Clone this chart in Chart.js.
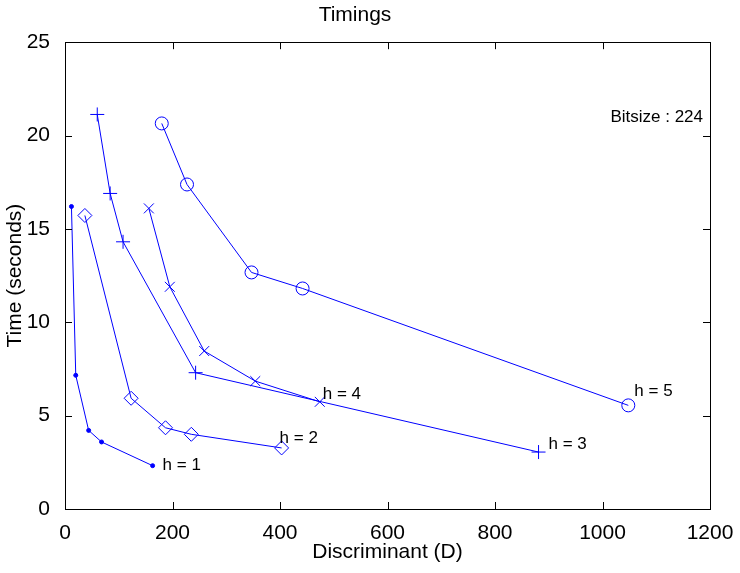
<!DOCTYPE html>
<html>
<head>
<meta charset="utf-8">
<script src="https://cdn.jsdelivr.net/npm/chart.js@4.4.1/dist/chart.umd.min.js"></script>
<style>
  body { margin: 0; background: #fff; }
</style>
</head>
<body>
<canvas id="myChart" width="740" height="573"></canvas>
<script>
// discriminant (x) and time (y) for each class number h
var h1X = [12, 20, 44, 68, 163];
var h1Y = [16.2, 7.16, 4.21, 3.59, 2.32];
var h2X = [37, 123, 187, 235, 403];
var h2Y = [15.72, 5.93, 4.35, 4.0, 3.27];
var h3X = [60, 84, 108, 243, 881];
var h3Y = [21.13, 16.9, 14.31, 7.30, 3.05];
var h4X = [156, 195, 259, 354, 474];
var h4Y = [16.1, 11.9, 8.46, 6.85, 5.74];
var h5X = [180, 227, 347, 442, 1048];
var h5Y = [20.65, 17.38, 12.67, 11.81, 5.55];
var seriesLabels = ['h = 1', 'h = 2', 'h = 3', 'h = 4', 'h = 5'];
var xTicks = [0, 200, 400, 600, 800, 1000, 1200];
var yTicks = [0, 5, 10, 15, 20, 25];
var note = 'Bitsize : 224';
var noteY = 21; // y value the note sits at

function pts(xs, ys) {
    return xs.map(function (x, i) { return { x: x, y: ys[i] }; });
}

var blue = '#0000ff';
var font = 'Liberation Sans, Arial, Helvetica, sans-serif';

// label offsets (px) from the last point of each line
var labelOffsets = [[10, 0], [-2, -10], [10, -8], [3, -8], [6, -14]];

var boxPlugin = {
    id: 'boxPlugin',
    afterDraw: function (chart) {
        var c = chart.ctx, a = chart.chartArea;
        var xs = chart.scales.x, ys = chart.scales.y;
        c.save();
        c.strokeStyle = '#000';
        c.lineWidth = 1;
        c.strokeRect(Math.round(a.left) + 0.5, Math.round(a.top) + 0.5,
            Math.round(a.right - a.left), Math.round(a.bottom - a.top));
        c.beginPath();
        xTicks.forEach(function (v) {
            var px = Math.round(xs.getPixelForValue(v)) + 0.5;
            c.moveTo(px, a.bottom); c.lineTo(px, a.bottom - 7);
            c.moveTo(px, a.top); c.lineTo(px, a.top + 7);
        });
        yTicks.forEach(function (v) {
            var py = Math.round(ys.getPixelForValue(v)) + 0.5;
            c.moveTo(a.left, py); c.lineTo(a.left + 7, py);
            c.moveTo(a.right, py); c.lineTo(a.right - 7, py);
        });
        c.stroke();

        c.fillStyle = '#000';
        c.font = '17px ' + font;
        c.textBaseline = 'middle';
        c.textAlign = 'left';
        chart.data.datasets.forEach(function (ds, i) {
            var last = ds.data[ds.data.length - 1];
            var px = xs.getPixelForValue(last.x) + labelOffsets[i][0];
            var py = ys.getPixelForValue(last.y) + labelOffsets[i][1];
            c.fillText(seriesLabels[i], px, py);
        });
        c.textAlign = 'right';
        c.fillText(note, a.right - 7, ys.getPixelForValue(noteY));
        c.restore();
    }
};

var myChart = new Chart(document.getElementById('myChart').getContext('2d'), {
    type: 'scatter',
    data: {
        datasets: [
            { label: seriesLabels[0], data: pts(h1X, h1Y), pointStyle: 'circle', pointRadius: 2, backgroundColor: blue },
            { label: seriesLabels[1], data: pts(h2X, h2Y), pointStyle: 'rectRot', pointRadius: 7, backgroundColor: 'rgba(0,0,0,0)' },
            { label: seriesLabels[2], data: pts(h3X, h3Y), pointStyle: 'cross', pointRadius: 7, backgroundColor: 'rgba(0,0,0,0)' },
            { label: seriesLabels[3], data: pts(h4X, h4Y), pointStyle: 'crossRot', pointRadius: 7, backgroundColor: 'rgba(0,0,0,0)' },
            { label: seriesLabels[4], data: pts(h5X, h5Y), pointStyle: 'circle', pointRadius: 6.5, backgroundColor: 'rgba(0,0,0,0)' }
        ].map(function (d) {
            d.showLine = true;
            d.borderColor = blue;
            d.borderWidth = 1;
            d.pointBorderWidth = 1;
            d.pointHoverRadius = d.pointRadius;
            return d;
        })
    },
    options: {
        responsive: false,
        animation: false,
        layout: { padding: { left: 0, right: 30, top: 0, bottom: 0 } },
        plugins: {
            legend: { display: false },
            tooltip: { enabled: false },
            title: {
                display: true,
                text: 'Timings',
                color: '#000',
                font: { family: font, size: 21, weight: 'normal' },
                padding: { top: 3, bottom: 14 }
            }
        },
        scales: {
            x: {
                type: 'linear',
                min: 0, max: 1200,
                afterBuildTicks: function (s) { s.ticks = xTicks.map(function (v) { return { value: v }; }); },
                afterFit: function (s) { s.height = 64; },
                grid: { display: false },
                border: { display: false },
                ticks: { color: '#000', font: { family: font, size: 21 }, padding: 4, maxRotation: 0,
                    callback: function (v) { return String(v); } },
                title: { display: true, text: 'Discriminant (D)', color: '#000', font: { family: font, size: 21 }, padding: { top: 0, bottom: 8 } }
            },
            y: {
                type: 'linear',
                min: 0, max: 25,
                afterBuildTicks: function (s) { s.ticks = yTicks.map(function (v) { return { value: v }; }); },
                afterFit: function (s) { s.width = 65; },
                grid: { display: false },
                border: { display: false },
                ticks: { color: '#000', font: { family: font, size: 21 }, padding: 7,
                    callback: function (v) { return String(v); } },
                title: { display: true, text: 'Time (seconds)', color: '#000', font: { family: font, size: 21 }, padding: { top: 3, bottom: 0 } }
            }
        }
    },
    plugins: [boxPlugin]
});
</script>
</body>
</html>
